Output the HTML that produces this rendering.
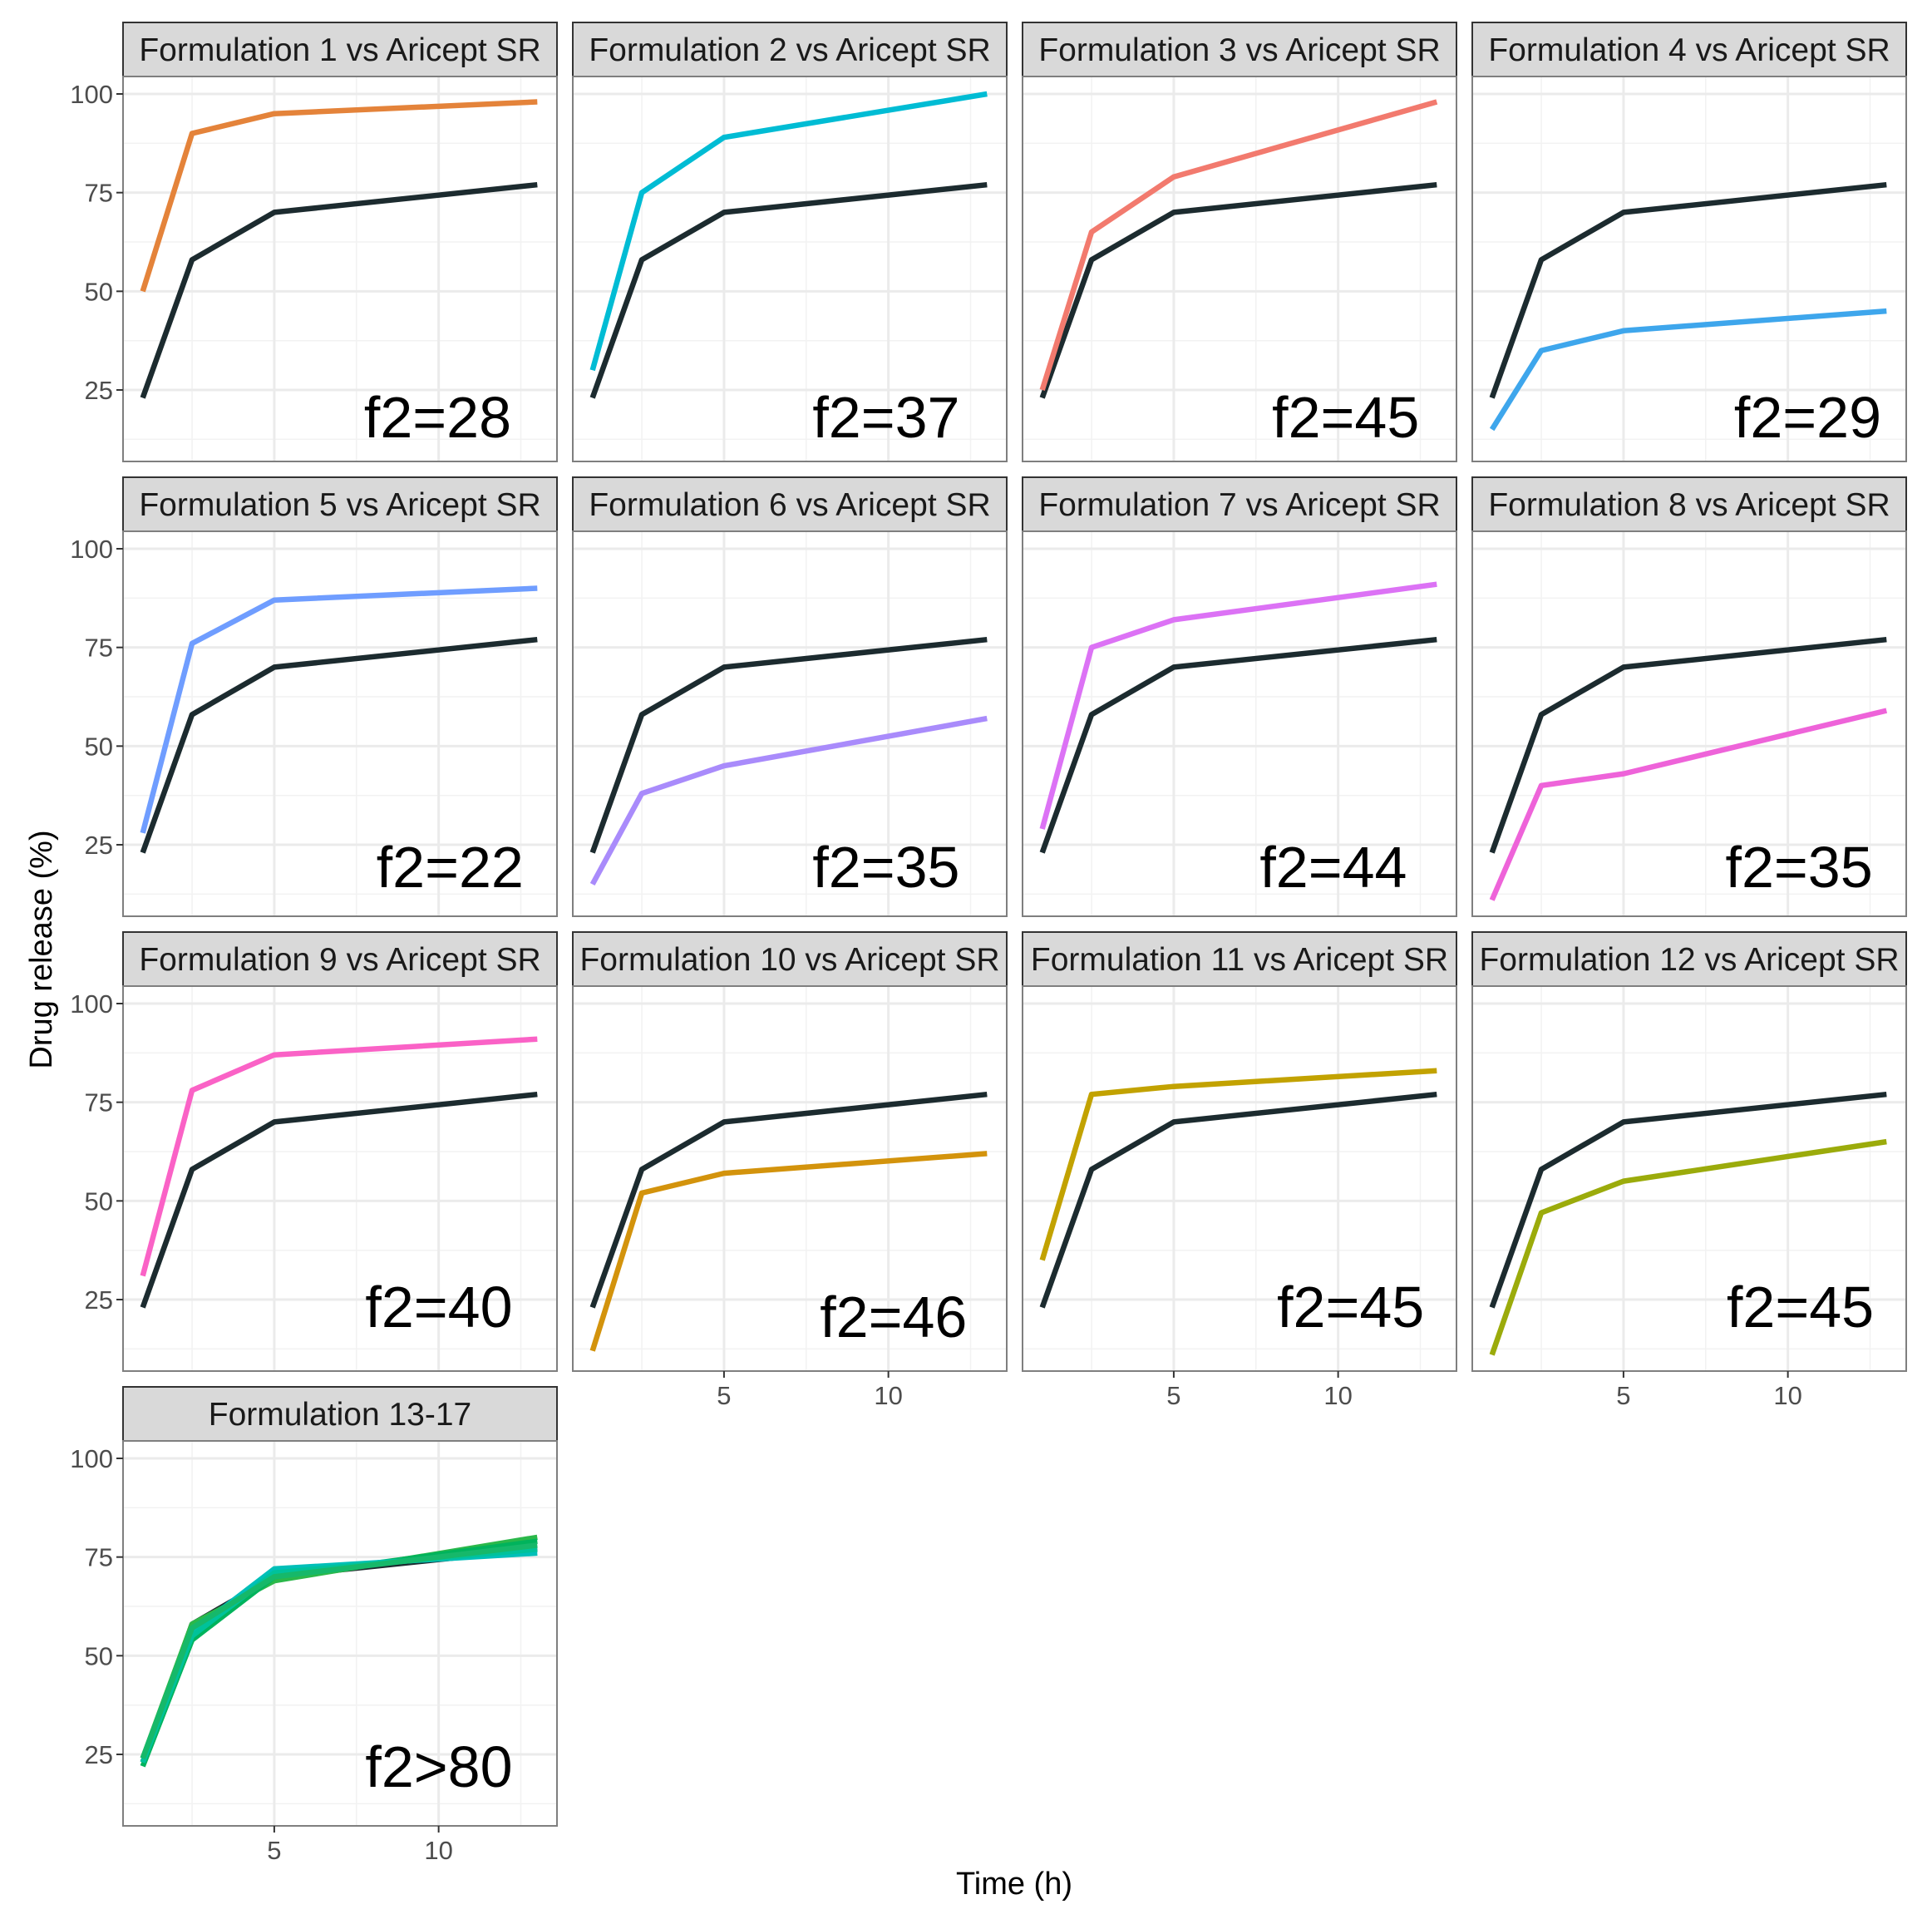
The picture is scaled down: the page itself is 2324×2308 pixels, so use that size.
<!DOCTYPE html>
<html><head><meta charset="utf-8"><style>
html,body{margin:0;padding:0;background:#fff;}
svg{display:block;font-family:"Liberation Sans",sans-serif;}
</style></head><body>
<svg id="chart" width="2324" height="2308" viewBox="0 0 2324 2308" xmlns="http://www.w3.org/2000/svg">
<text x="0" y="0" transform="translate(62,1142) rotate(-90)" text-anchor="middle" font-size="38" fill="#000">Drug release (%)</text>
<text x="1220" y="2278" text-anchor="middle" font-size="38" fill="#000">Time (h)</text>
</svg>
<script>
const times = [1, 2.5, 5, 13];
const reference = [23, 58, 70, 77];
const panelTitles = ["Formulation 1 vs Aricept SR","Formulation 2 vs Aricept SR","Formulation 3 vs Aricept SR","Formulation 4 vs Aricept SR","Formulation 5 vs Aricept SR","Formulation 6 vs Aricept SR","Formulation 7 vs Aricept SR","Formulation 8 vs Aricept SR","Formulation 9 vs Aricept SR","Formulation 10 vs Aricept SR","Formulation 11 vs Aricept SR","Formulation 12 vs Aricept SR","Formulation 13-17"];
const f2Labels = ["f2=28","f2=37","f2=45","f2=29","f2=22","f2=35","f2=44","f2=35","f2=40","f2=46","f2=45","f2=45","f2>80"];
const formulationSeries = [
 [[50,90,95,98]],
 [[30,75,89,100]],
 [[25,65,79,98]],
 [[15,35,40,45]],
 [[28,76,87,90]],
 [[15,38,45,57]],
 [[29,75,82,91]],
 [[11,40,43,59]],
 [[31,78,87,91]],
 [[12,52,57,62]],
 [[35,77,79,83]],
 [[11,47,55,65]],
 [[24,58,69,80],[22,54,70,79],[23,56,72,76],[23,55,71,77],[24,57,70,78]]
];
const seriesColors = [["#e4833a"],["#00bcd4"],["#f27a6e"],["#3ea6ec"],["#6f9dff"],["#a98bfb"],["#dc72f5"],["#ee63d9"],["#fa62c6"],["#d3930c"],["#c2a200"],["#9bab0b"],["#2bb84a","#00b35c","#00bfb8","#00c29a","#16b86a"]];
const yTicks = [25, 50, 75, 100];
const yMinor = [12.5, 37.5, 62.5, 87.5];
const xTicks = [5, 10];
const xMinor = [2.5, 7.5, 12.5];
const f2Right = [[415,779,1152,1527],[425,779,1142,1520],[416,785,1156,1521],[416]];
const f2Base = [[355,355,355,355],[720,720,720,720],[1077,1085,1077,1077],[1450]];

const NS = "http://www.w3.org/2000/svg";
const svg = document.getElementById("chart");
function mk(tag, attrs, parent){const e=document.createElementNS(NS,tag);for(const k in attrs)e.setAttribute(k,attrs[k]);(parent||svg).appendChild(e);return e;}
const PW=522, STRIP=65, PH=463, S=1.482;
function colLeft(c){return 148+541*c;}
function rowTop(r){return 27+547*r;}
function xs(c,t){return colLeft(c)+(t-0.4)*(PW/13.2);}
function ys(r,v){return rowTop(r)+STRIP+21+(100-v)*4.747;}
function bottomRow(c){return c===0?3:2;}

panelTitles.forEach((title,i)=>{
  const r=Math.floor(i/4), c=i%4;
  const L=colLeft(c), T=rowTop(r), PT=T+STRIP;
  const g=mk("g",{});
  
  
  const strip=mk("rect",{x:L,y:T,width:PW,height:STRIP,fill:"#d9d9d9",stroke:"#333",'stroke-width':2},g);
  
  
  const st=mk("text",{x:L+PW/2,y:T+46,'text-anchor':'middle','font-size':39,fill:'#1a1a1a'},g);
  st.textContent=title;
  
  
  mk("rect",{x:L,y:PT,width:PW,height:PH,fill:"#fff"},g);
  yMinor.forEach(v=>mk("line",{x1:L,x2:L+PW,y1:ys(r,v),y2:ys(r,v),stroke:"#f2f2f2",'stroke-width':1.5},g));
  xMinor.forEach(v=>mk("line",{x1:xs(c,v),x2:xs(c,v),y1:PT,y2:PT+PH,stroke:"#f2f2f2",'stroke-width':1.5},g));
  yTicks.forEach(v=>mk("line",{x1:L,x2:L+PW,y1:ys(r,v),y2:ys(r,v),stroke:"#ebebeb",'stroke-width':3},g));
  xTicks.forEach(v=>mk("line",{x1:xs(c,v),x2:xs(c,v),y1:PT,y2:PT+PH,stroke:"#ebebeb",'stroke-width':3},g));
  const refPts=times.map((t,k)=>xs(c,t).toFixed(1)+","+ys(r,reference[k]).toFixed(1)).join(" ");
  const ref=mk("polyline",{points:refPts,fill:"none",stroke:"#1c2b2f",'stroke-width':6.5,'stroke-linejoin':'round'},g);
  
  
  formulationSeries[i].forEach((s,j)=>{
    const pts=times.map((t,k)=>xs(c,t).toFixed(1)+","+ys(r,s[k]).toFixed(1)).join(" ");
    const pl=mk("polyline",{points:pts,fill:"none",stroke:seriesColors[i][j],'stroke-width':6.5,'stroke-linejoin':'round'},g);
    
    
  });
  mk("rect",{x:L,y:PT,width:PW,height:PH,fill:"none",stroke:"#7f7f7f",'stroke-width':2},g);
  const f2=mk("text",{x:f2Right[r][c]*S,y:f2Base[r][c]*S,'text-anchor':'end','font-size':70,fill:'#000'},g);
  f2.textContent=f2Labels[i];
  
  
  if(c===0){
    yTicks.forEach(v=>{
      mk("line",{x1:L-8,x2:L,y1:ys(r,v),y2:ys(r,v),stroke:"#333",'stroke-width':2},g);
      const tl=mk("text",{x:L-12,y:ys(r,v)+11,'text-anchor':'end','font-size':31,fill:'#4d4d4d'},g);
      tl.textContent=String(v);
      
      
    });
  }
  if(r===bottomRow(c)){
    xTicks.forEach(v=>{
      mk("line",{x1:xs(c,v),x2:xs(c,v),y1:PT+PH,y2:PT+PH+8,stroke:"#333",'stroke-width':2},g);
      const tl=mk("text",{x:xs(c,v),y:PT+PH+40,'text-anchor':'middle','font-size':31,fill:'#4d4d4d'},g);
      tl.textContent=String(v);
      
      
    });
  }
});
</script>
</body></html>
